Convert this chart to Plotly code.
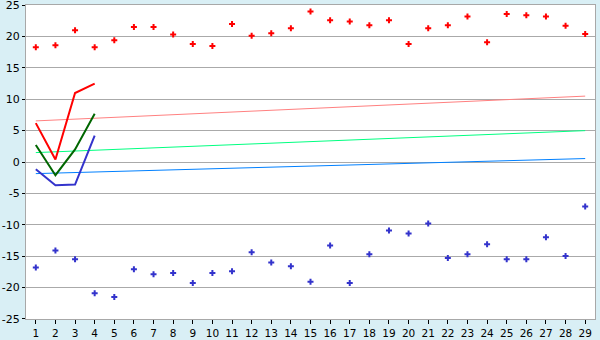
import plotly.graph_objects as go

days = list(range(1, 30))
red_pts = [18.3, 18.6, 21.0, 18.3, 19.4, 21.5, 21.5, 20.3, 18.8, 18.5,
           22.0, 20.1, 20.5, 21.3, 24.0, 22.6, 22.4, 21.8, 22.6, 18.8,
           21.3, 21.8, 23.2, 19.1, 23.6, 23.4, 23.2, 21.7, 20.4]
blue_pts = [-16.8, -14.1, -15.5, -20.9, -21.5, -17.1, -17.9, -17.7, -19.3, -17.7,
            -17.4, -14.4, -16.0, -16.6, -19.1, -13.3, -19.3, -14.7, -10.9, -11.4,
            -9.8, -15.3, -14.7, -13.1, -15.5, -15.5, -12.0, -15.0, -7.1]
line_x = [1, 2, 3, 4]
red_line = [6.2, 0.4, 11.0, 12.5]
green_line = [2.7, -2.1, 2.0, 7.7]
blue_line = [-1.15, -3.7, -3.6, 4.2]
trend_x = [1, 29]
trend_red = [6.55, 10.5]
trend_green = [1.5, 5.0]
trend_blue = [-1.85, 0.55]
y_ticks = [25, 20, 15, 10, 5, 0, -5, -10, -15, -20, -25]

fig = go.Figure()
fig.add_trace(go.Scatter(x=trend_x, y=trend_red, mode="lines",
                         line=dict(color="#FF8080", width=1)))
fig.add_trace(go.Scatter(x=trend_x, y=trend_green, mode="lines",
                         line=dict(color="#00FF80", width=1)))
fig.add_trace(go.Scatter(x=trend_x, y=trend_blue, mode="lines",
                         line=dict(color="#0080FF", width=1)))
fig.add_trace(go.Scatter(x=line_x, y=red_line, mode="lines",
                         line=dict(color="#FF0000", width=2)))
fig.add_trace(go.Scatter(x=line_x, y=green_line, mode="lines",
                         line=dict(color="#006600", width=2)))
fig.add_trace(go.Scatter(x=line_x, y=blue_line, mode="lines",
                         line=dict(color="#3333CC", width=2)))
fig.add_trace(go.Scatter(x=days, y=red_pts, mode="markers",
                         marker=dict(symbol="cross", size=5, color="#FF0000",
                                     line=dict(width=0))))
fig.add_trace(go.Scatter(x=days, y=blue_pts, mode="markers",
                         marker=dict(symbol="cross", size=5, color="#3333CC",
                                     line=dict(width=0))))

fig.update_layout(
    width=600, height=340,
    margin=dict(l=26, r=5, t=5, b=21, autoexpand=False),
    paper_bgcolor="#D9EFF5",
    plot_bgcolor="#FFFFFF",
    showlegend=False,
    font=dict(family="DejaVu Sans", size=11, color="#000000"),
)
fig.update_xaxes(
    range=[0.5, 29.5], tickmode="array", tickvals=days,
    ticktext=[str(d) for d in days],
    ticks="outside", ticklen=4, tickcolor="#000000", automargin=False,
    tickfont=dict(size=10.5), ticklabeloverflow="allow",
    showgrid=False, zeroline=False,
    showline=True, linecolor="#A8A8A8", linewidth=1, mirror=True,
)
fig.update_yaxes(
    range=[-25.02, 25.02], tickmode="array", tickvals=y_ticks,
    ticktext=[str(v) for v in y_ticks],
    ticks="outside", ticklen=3, tickcolor="#000000", automargin=False,
    ticklabeloverflow="allow",
    showgrid=True, gridcolor="#AAAAAA", gridwidth=1, zeroline=False,
    showline=True, linecolor="#A8A8A8", linewidth=1, mirror=True,
)

fig.write_html("out.html")
